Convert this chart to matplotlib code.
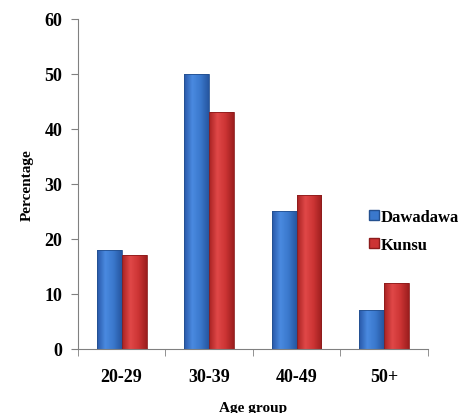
import numpy as np
import matplotlib.pyplot as plt
from matplotlib.colors import LinearSegmentedColormap
from matplotlib.lines import Line2D

age_groups = ['20-29', '30-39', '40-49', '50+']
dawadawa = [18, 50, 25, 7]
kunsu = [17, 43, 28, 12]

plt.rcParams['font.family'] = ['Liberation Serif', 'DejaVu Serif']
plt.rcParams['font.weight'] = 'bold'

fig = plt.figure(figsize=(4.66, 4.14), dpi=100)
ax = fig.add_axes([0.167, 0.155, 0.751, 0.797])

x = np.arange(len(age_groups))
w = 0.285

blue_cmap = LinearSegmentedColormap.from_list('b', ['#2858a8', '#4a8ae0', '#3a78cc', '#2656a0'])
red_cmap = LinearSegmentedColormap.from_list('r', ['#a82222', '#e04848', '#cc3434', '#9c1e1e'])

def shaded_bars(xs, vals, cmap, edge):
    bars = ax.bar(xs, vals, w, color='none', edgecolor=edge, linewidth=0.6, zorder=3)
    grad = np.linspace(0, 1, 64).reshape(1, -1)
    for b in bars:
        x0, y0 = b.get_x(), b.get_y()
        bw, bh = b.get_width(), b.get_height()
        im = ax.imshow(grad, cmap=cmap, aspect='auto', extent=(x0, x0 + bw, y0, y0 + bh),
                       zorder=2, interpolation='bilinear')
        im.set_clip_path(b)
    return bars

shaded_bars(x - w / 2, dawadawa, blue_cmap, '#24508f')
shaded_bars(x + w / 2, kunsu, red_cmap, '#8c1c1c')

ax.set_xlim(-0.5, len(age_groups) - 0.5)
ax.set_ylim(0, 60)
ax.set_yticks(range(0, 61, 10))
ax.set_xticks(x)
ax.set_xticklabels(age_groups)
ax.set_xticks(np.arange(-0.5, len(age_groups), 1), minor=True)
ax.tick_params(axis='x', which='major', length=0, pad=14, labelsize=13)
ax.tick_params(axis='x', which='minor', length=5, color='#808080', direction='out')
ax.tick_params(axis='y', length=5, color='#808080', labelsize=13, pad=6)

for s in ['top', 'right']:
    ax.spines[s].set_visible(False)
for s in ['left', 'bottom']:
    ax.spines[s].set_color('#808080')

ax.set_ylabel('Percentage', fontsize=11, fontweight='bold', labelpad=8)
ax.set_xlabel('Age group', fontsize=11, fontweight='bold', labelpad=11)

handles = [Line2D([], [], marker='s', linestyle='none', markersize=7,
                  markerfacecolor='#3a78cc', markeredgecolor='#24508f'),
           Line2D([], [], marker='s', linestyle='none', markersize=7,
                  markerfacecolor='#cc3434', markeredgecolor='#8c1c1c')]
fig.legend(handles, ['Dawadawa', 'Kunsu'], loc='upper left', bbox_to_anchor=(0.77, 0.51),
           frameon=False, fontsize=12, handletextpad=-0.1, labelspacing=0.75,
           handlelength=1.0, borderaxespad=0)

fig.savefig('out.png', dpi=100)
